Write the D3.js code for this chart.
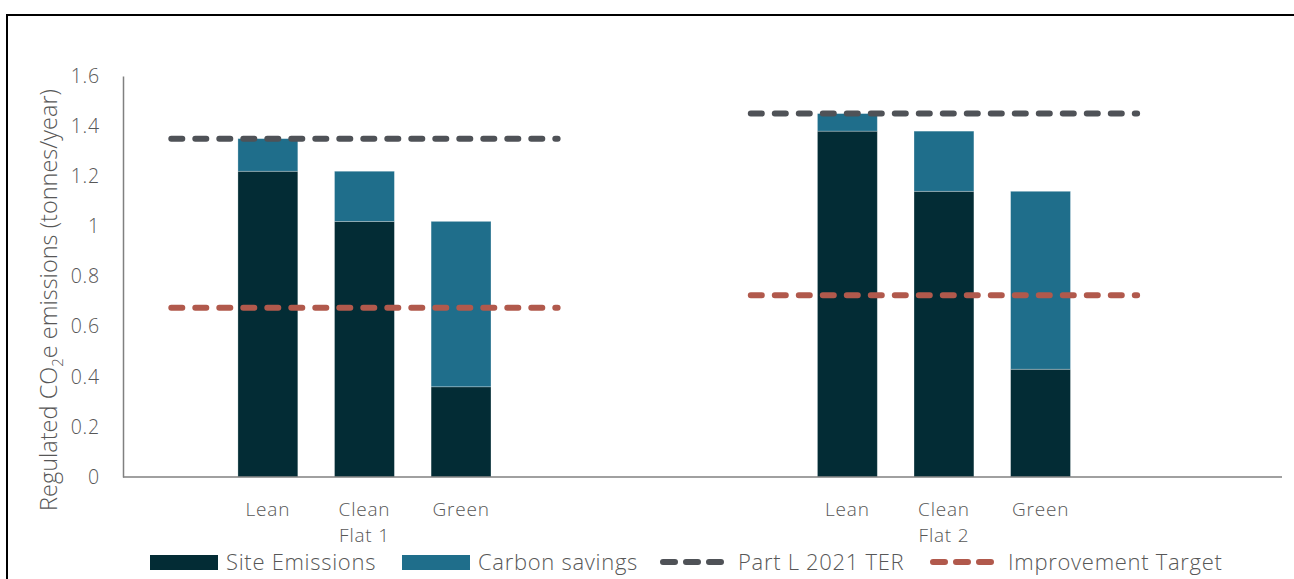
<!DOCTYPE html>
<html>
<head>
<meta charset="utf-8">
<script src="https://cdn.jsdelivr.net/npm/d3@7"></script>
<style>
  html, body { margin: 0; padding: 0; background: #fff; }
  svg { display: block; }
  text { font-family: "Open Sans", "Noto Sans", sans-serif; font-weight: 300; fill: #575757; }
</style>
</head>
<body>
<svg id="chart" width="1294" height="579"></svg>
<script>
// Regulated CO2e emissions per specification, two flat types
const groups = ["Flat 1", "Flat 2"];
const slotLabels = ["", "Lean", "Clean", "Green", "", ""];   // category slots per flat
const options = ["Lean", "Clean", "Green"];
const siteEmissions = [1.22, 1.02, 0.36, 1.38, 1.14, 0.43];
const carbonSavings = [0.13, 0.20, 0.66, 0.07, 0.24, 0.71];
const partLTER = [1.35, 1.45];
const improvementTarget = [0.675, 0.725];
const yTicks = [0, 0.2, 0.4, 0.6, 0.8, 1, 1.2, 1.4, 1.6];

const colors = {
  site: "#032c35",
  savings: "#1f6e8b",
  ter: "#4f5257",
  target: "#b1594c",
  axis: "#808080"
};

const svg = d3.select("#chart");

// outer frame
svg.append("rect")
  .attr("x", 7).attr("y", 15)
  .attr("width", 1400).attr("height", 700)
  .attr("fill", "none").attr("stroke", "#000").attr("stroke-width", 2);

const plot = { left: 123, right: 1282, top: 76, bottom: 477 };

const y = d3.scaleLinear().domain([0, 1.6]).range([plot.bottom, plot.top]);

const slotKeys = [];
groups.forEach((g, gi) => slotLabels.forEach((s, si) => slotKeys.push(gi + "-" + si)));
const x = d3.scaleBand().domain(slotKeys).range([plot.left, plot.right]).padding(0);
const barW = x.bandwidth() * 0.62;
const cx = key => x(key) + x.bandwidth() / 2;

// bar records
const bars = [];
groups.forEach((g, gi) => {
  options.forEach((o, oi) => {
    const i = gi * options.length + oi;
    const key = gi + "-" + slotLabels.indexOf(o);
    bars.push({ key, label: o, site: siteEmissions[i], savings: carbonSavings[i] });
  });
});

const gBars = svg.append("g");
gBars.selectAll("rect.site").data(bars).join("rect")
  .attr("class", "site")
  .attr("x", d => cx(d.key) - barW / 2)
  .attr("width", barW)
  .attr("y", d => y(d.site))
  .attr("height", d => y(0) - y(d.site))
  .attr("fill", colors.site)
  .attr("stroke", "rgba(255,255,255,0.35)").attr("stroke-width", 0.8);

gBars.selectAll("rect.savings").data(bars).join("rect")
  .attr("class", "savings")
  .attr("x", d => cx(d.key) - barW / 2)
  .attr("width", barW)
  .attr("y", d => y(d.site + d.savings))
  .attr("height", d => y(d.site) - y(d.site + d.savings))
  .attr("fill", colors.savings)
  .attr("stroke", "rgba(255,255,255,0.35)").attr("stroke-width", 0.8);

// reference lines across the first five slots of each flat
const lineSpan = gi => [cx(gi + "-0"), cx(gi + "-4")];
function refLines(values, color) {
  svg.append("g").selectAll("line").data(values).join("line")
    .attr("x1", (d, gi) => lineSpan(gi)[0])
    .attr("x2", (d, gi) => lineSpan(gi)[1])
    .attr("y1", d => y(d)).attr("y2", d => y(d))
    .attr("stroke", color).attr("stroke-width", 6)
    .attr("stroke-linecap", "round")
    .attr("stroke-dasharray", "11 13");
}
refLines(partLTER, colors.ter);
refLines(improvementTarget, colors.target);

// axes
const yAxis = svg.append("g").attr("transform", `translate(${plot.left},0)`)
  .call(d3.axisLeft(y).tickValues(yTicks).tickSize(0).tickPadding(23).tickFormat(d3.format("~g")));
yAxis.select(".domain").attr("stroke", colors.axis).attr("stroke-width", 1.5);
yAxis.selectAll("text").attr("font-size", 19.5).attr("fill", "#575757")
  .style("font-family", "'Open Sans', sans-serif").style("font-weight", 300)
  .style("letter-spacing", "0.8px");

svg.append("line")
  .attr("x1", plot.left).attr("x2", plot.right)
  .attr("y1", plot.bottom).attr("y2", plot.bottom)
  .attr("stroke", colors.axis).attr("stroke-width", 1.5);

// category labels
svg.append("g").selectAll("text").data(bars).join("text")
  .attr("x", d => cx(d.key)).attr("y", 516)
  .attr("text-anchor", "middle").attr("font-size", 19)
  .style("letter-spacing", "0.8px")
  .text(d => d.label);

svg.append("g").selectAll("text").data(groups).join("text")
  .attr("x", (g, gi) => cx(gi + "-2")).attr("y", 542)
  .attr("text-anchor", "middle").attr("font-size", 19)
  .style("letter-spacing", "0.8px")
  .text(d => d);

// y-axis title
const title = svg.append("text")
  .attr("transform", "translate(57,300) rotate(-90)")
  .attr("text-anchor", "middle").attr("font-size", 23.5);
title.append("tspan").text("Regulated CO");
title.append("tspan").text("2").attr("font-size", 15).attr("dy", 6);
title.append("tspan").text("e emissions (tonnes/year)").attr("dy", -6);

// legend
const legend = svg.append("g");
const legendItems = [
  { name: "Site Emissions", type: "rect", color: colors.site, x: 150 },
  { name: "Carbon savings", type: "rect", color: colors.savings, x: 402 },
  { name: "Part L 2021 TER", type: "line", color: colors.ter, x: 660 },
  { name: "Improvement Target", type: "line", color: colors.target, x: 930 }
];
legendItems.forEach(it => {
  if (it.type === "rect") {
    legend.append("rect").attr("x", it.x).attr("y", 555).attr("width", 68).attr("height", 15).attr("fill", it.color);
  } else {
    legend.append("line").attr("x1", it.x + 3).attr("x2", it.x + 63)
      .attr("y1", 562).attr("y2", 562)
      .attr("stroke", it.color).attr("stroke-width", 6)
      .attr("stroke-linecap", "round").attr("stroke-dasharray", "12 11");
  }
  legend.append("text").attr("x", it.x + (it.type === "rect" ? 76 : 78)).attr("y", 570)
    .attr("font-size", 22).style("letter-spacing", "0.7px").text(it.name);
});
</script>
</body>
</html>
